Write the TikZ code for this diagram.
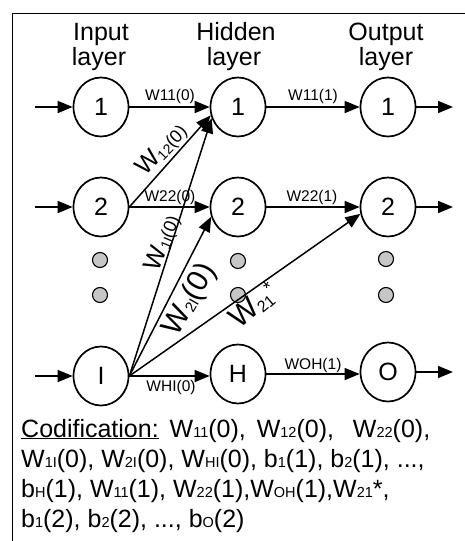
\documentclass[tikz,border=0pt]{standalone}
\usepackage{fontspec}
\setmainfont{Liberation Sans}
\usetikzlibrary{arrows.meta,shapes.geometric}

% text at a given size
\newcommand\fsz[2]{{\fontsize{#1}{#1}\selectfont #2}}
% small index set on the baseline, as used in the code list
\newcommand\idx[1]{\fsz{14.5}{#1}}

\begin{document}
\begin{tikzpicture}[x=1pt,y=-1pt,
  neuron/.style={draw,line width=1.7pt,ellipse,minimum width=55pt,minimum height=59pt,
                 inner sep=0pt,font=\fontsize{25}{25}\selectfont},
  gapdot/.style={circle,draw,line width=1.1pt,fill=gray!45,minimum size=15pt,inner sep=0pt},
  hdr/.style={anchor=base,font=\fontsize{25}{25}\selectfont,inner sep=0pt},
  conn/.style={line width=1.5pt,-{Triangle[length=15pt,width=12pt]}},
  wlab/.style={font=\fontsize{15.5}{15.5}\selectfont,inner sep=0pt},
  rlab/.style={inner sep=0pt},
  codeline/.style={anchor=base west,font=\fontsize{25}{25}\selectfont,inner sep=0pt}]

\useasboundingbox (0,0) rectangle (465,541);

% frame (top and left edges)
\draw[line width=1pt] (465,13) coordinate (frTR) -- (12,13) coordinate (frTL) -- (12,541) coordinate (frBL);

% layer titles
\node[hdr] (tIn1)  at (101,40) {Input};
\node[hdr] (tIn2)  at (99,65)  {layer};
\node[hdr] (tHid1) at (236,40) {Hidden};
\node[hdr] (tHid2) at (234,65) {layer};
\node[hdr] (tOut1) at (386,40) {Output};
\node[hdr] (tOut2) at (386,65) {layer};

% neurons
\node[neuron] (I1) at (101,107) {1};
\node[neuron] (I2) at (101,207) {2};
\node[neuron] (II) at (101,376) {I};
\node[neuron] (H1) at (238,107) {1};
\node[neuron] (H2) at (238,207) {2};
\node[neuron] (HH) at (238,374) {H};
\node[neuron] (O1) at (388,107) {1};
\node[neuron] (O2) at (388,207) {2};
\node[neuron] (OO) at (388,372) {O};

% ellipsis dots
\node[gapdot] (d1a) at (100,260) {};
\node[gapdot] (d1b) at (100,295) {};
\node[gapdot] (d2a) at (238,261) {};
\node[gapdot] (d2b) at (238,295) {};
\node[gapdot] (d3a) at (386,259) {};
\node[gapdot] (d3b) at (386,295) {};

% inputs and outputs
\coordinate (in1) at (35,107);
\coordinate (in2) at (35,207);
\coordinate (inI) at (35,376);
\coordinate (out1) at (453,107);
\coordinate (out2) at (453,207);
\coordinate (outO) at (453,372);
\draw[conn] (in1) -- (I1);
\draw[conn] (in2) -- (I2);
\draw[conn] (inI) -- (II);
\draw[conn] (O1) -- (out1);
\draw[conn] (O2) -- (out2);
\draw[conn] (OO) -- (outO);

% input -> hidden weights
\draw[conn] (I1) -- (H1);
\draw[conn] (I2.east) -- (H1.197);
\draw[conn] (I2) -- (H2);
\draw[conn] (II.east) -- (H1.203);
\draw[conn] (II.east) -- (H2.200);
\draw[conn] (II.east) -- (O2.194);
\draw[conn] (II) -- (HH.west |- II);

% hidden -> output weights
\draw[conn] (H1) -- (O1);
\draw[conn] (H2) -- (O2);
\draw[conn] (HH) -- (OO.west |- HH);

% weight labels
\node[wlab] (lW11a) at (170,96)  {W11(0)};
\node[wlab] (lW22a) at (170,197) {W22(0)};
\node[wlab] (lWHI)  at (171,387) {WHI(0)};
\node[wlab] (lW11b) at (313,96)  {W11(1)};
\node[wlab] (lW22b) at (312,197) {W22(1)};
\node[wlab] (lWOH)  at (313,365) {WOH(1)};

\node[rlab,rotate=46] (lW12) at (162,150)
  {\fsz{25}{W}\raisebox{-2pt}{\fsz{14}{12}}\fsz{18}{(0)}};
\node[rlab,rotate=68] (lW1I) at (163,243)
  {\fsz{25}{W}\raisebox{-2pt}{\fsz{14}{1I}}\fsz{18}{(0)}};
\node[rlab,rotate=60] (lW2I) at (190,300)
  {\fsz{30}{W}\raisebox{-2pt}{\fsz{15}{2I}}\fsz{30}{(0)}};
\node[rlab,rotate=40] (lW21) at (254,306)
  {\fsz{30}{W}\raisebox{-3pt}{\fsz{16}{21}}\raisebox{8pt}{\fsz{18}{*}}};

% list of coded parameters
\node[codeline] (c1) at (21,437)
  {\underline{Codification:}\hspace{4pt} W\idx{11}(0),\hspace{4pt} W\idx{12}(0),\hspace{12pt} W\idx{22}(0),};
\node[codeline] (c2) at (21,467)
  {W\idx{1I}(0), W\idx{2I}(0), W\idx{HI}(0), b\idx{1}(1), b\idx{2}(1), ...,};
\node[codeline] (c3) at (21,497)
  {b\idx{H}(1), W\idx{11}(1), W\idx{22}(1),W\idx{OH}(1),W\idx{21}*,};
\node[codeline] (c4) at (21,527)
  {b\idx{1}(2), b\idx{2}(2), ..., b\idx{O}(2)};
\end{tikzpicture}
\end{document}
